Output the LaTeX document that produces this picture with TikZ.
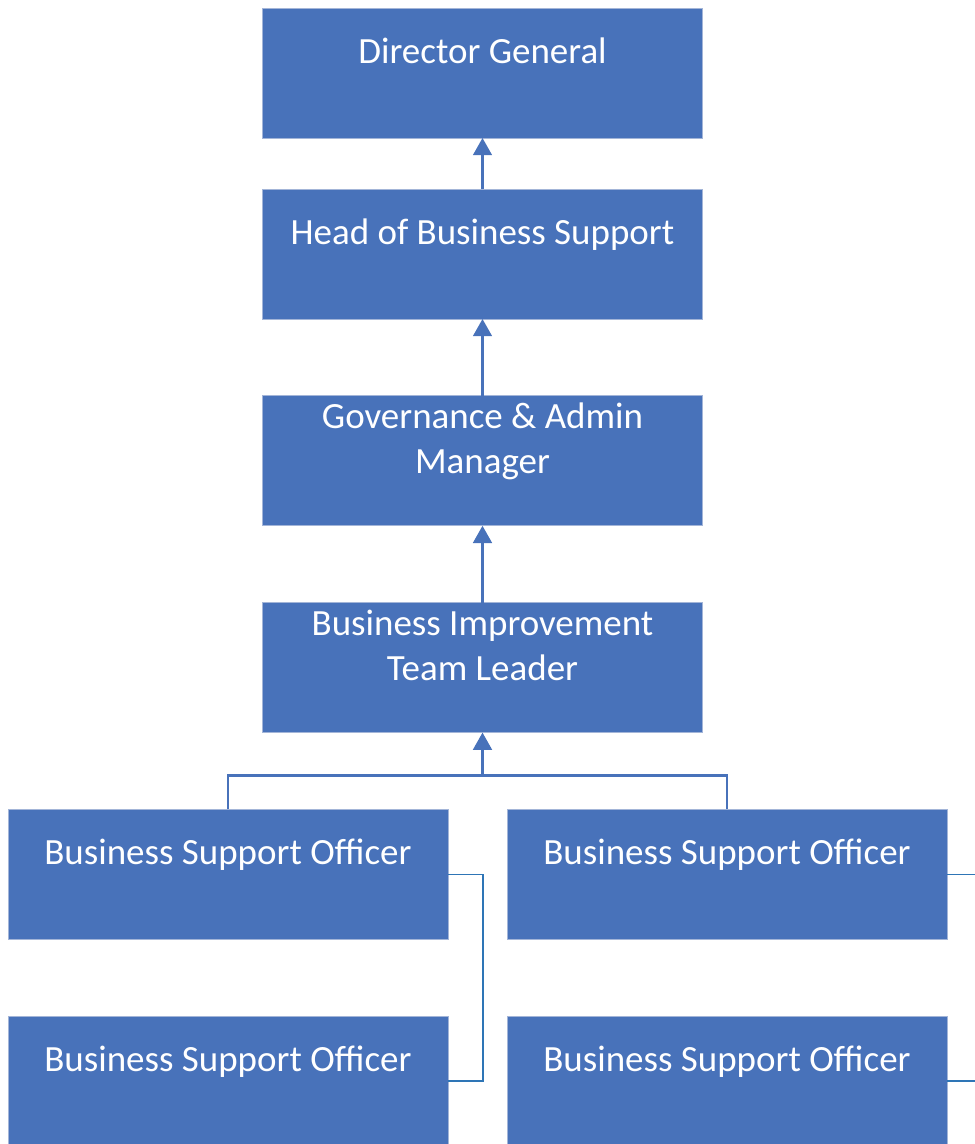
\documentclass[tikz,border=0pt]{standalone}
\usepackage{fontspec}
\setmainfont{Carlito}
\usetikzlibrary{arrows.meta,positioning,calc}

\definecolor{boxblue}{HTML}{4872BA}
\definecolor{boxedge}{HTML}{A3B5D8}
\definecolor{linkblue}{HTML}{2E75B6}

\begin{document}
\begin{tikzpicture}[node distance=1.92cm, semithick]
        \tikzstyle{box}=[rectangle,fill=boxblue,draw=boxedge,line width=0.6pt,
            text=white,minimum width=11cm,minimum height=3.25cm,inner sep=0pt,
            outer sep=0pt,align=center,font=\fontsize{26.3pt}{32pt}\selectfont]
        \tikzstyle{up}=[draw=boxblue,line width=1.6pt,
            -{Triangle[width=0.47cm,length=0.43cm]}]
        \tikzstyle{tie}=[draw=boxblue,line width=1.6pt]
        \tikzstyle{link}=[draw=linkblue,line width=1.2pt]

        \useasboundingbox (0,0) rectangle (24.375,-28.6);
        \clip (0,0) rectangle (24.375,-28.6);

        \node[box] (dg)   at (12.0625,-1.825)          {Director General\\\mbox{}};
        \node[box] (hbs)  [below=1.275cm of dg]        {Head of Business Support\\\mbox{}};
        \node[box] (gam)  [below=of hbs]               {Governance \& Admin\\Manager\\\mbox{}};
        \node[box] (bitl) [below=of gam]               {Business Improvement\\Team Leader\\\mbox{}};

        \node[box] (bsoa) [below=of bitl,xshift=-6.3625cm] {Business Support Officer\\\mbox{}};
        \node[box] (bsob) [below=of bitl,xshift=6.1125cm]  {Business Support Officer\\\mbox{}};
        \node[box] (bsoc) [below=of bsoa]                  {Business Support Officer\\\mbox{}};
        \node[box] (bsod) [below=of bsob]                  {Business Support Officer\\\mbox{}};

        \coordinate (fork) at ([yshift=-1.075cm]bitl.south);

        \path[up] (hbs.north)  -- (dg.south);
        \path[up] (gam.north)  -- (hbs.south);
        \path[up] (bitl.north) -- (gam.south);
        \path[up] (fork)       -- (bitl.south);
        \path[tie] (bsoa.north) |- (fork) -| (bsob.north);

        \path[link] (bsoa.east) -- ++(0.875cm,0) |- (bsoc.east);
        \path[link] (bsob.east) -- ++(0.875cm,0) |- (bsod.east);
      \end{tikzpicture}
\end{document}
